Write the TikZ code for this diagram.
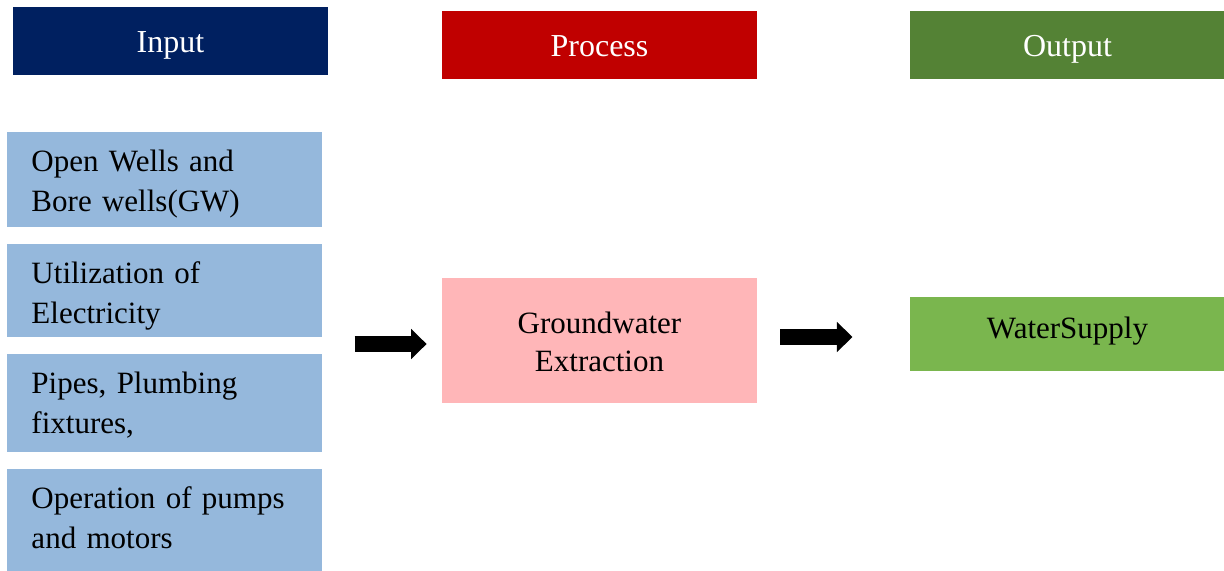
\documentclass[tikz,border=0pt]{standalone}
\usepackage{fontspec}
\setmainfont{Liberation Serif}
\usetikzlibrary{arrows.meta}

\definecolor{inputblue}{HTML}{002060}
\definecolor{processred}{HTML}{C00000}
\definecolor{outputgreen}{HTML}{548235}
\definecolor{itemblue}{HTML}{95B8DC}
\definecolor{extractpink}{HTML}{FFB6B8}
\definecolor{supplygreen}{HTML}{7AB64E}

\tikzset{
    header/.style={text=white, minimum height=34pt, text height=12pt, text depth=0pt,
        font=\fontsize{16}{20}\selectfont},
    item/.style={fill=itemblue, text width=133pt, align=left, text height=0pt},
    blockarrow/.style={line width=7.75pt, -{Triangle[length=7.75pt,width=14.75pt]}}
}

\begin{document}
\begin{tikzpicture}[x=1pt,y=-1pt]
            \useasboundingbox (0,0) rectangle (612,285.5);
            \begin{scope}[
                    every node/.style={inner sep=0pt, minimum width=157.5pt,
                        font=\fontsize{15.5}{20}\selectfont},
                ]

                \node[header, fill=inputblue] (input) at (85.25,20.5) {Input};
                \node[header, fill=processred] (process) at (299.75,22.5) {Process};
                \node[header, fill=outputgreen] (output) at (533.75,22.5) {Output};

                \node[item, minimum height=47.5pt, text depth=8pt] (wells) at (82.25,89.75) {Open Wells and\\Bore wells(GW)};
                \node[item, minimum height=46.5pt, text depth=7pt] (power) at (82.25,145.25) {Utilization of\\Electricity};
                \node[item, minimum height=49pt, text depth=9.5pt] (pipes) at (82.25,201.5) {Pipes, Plumbing\\fixtures,};
                \node[item, minimum height=51pt, text depth=11.5pt] (pumps) at (82.25,260) {Operation of pumps\\and motors};

                \node[fill=extractpink, minimum height=62.5pt, align=center,
                    text height=30.5pt, text depth=0pt] (extract) at (299.75,170.25) {Groundwater\\[-1.5pt]Extraction};
                \node[fill=supplygreen, minimum height=37pt,
                    text height=4pt, text depth=0pt] (supply) at (533.75,167) {WaterSupply};
            \end{scope}

            \coordinate (in1) at ([xshift=-43.5pt,yshift=-1.75pt]extract.west);
            \coordinate (in2) at ([xshift=-7.5pt,yshift=-1.75pt]extract.west);
            \coordinate (out1) at ([xshift=11.5pt,yshift=1.75pt]extract.east);
            \coordinate (out2) at ([xshift=47.5pt,yshift=1.75pt]extract.east);

            \draw[blockarrow] (in1) -- (in2);
            \draw[blockarrow] (out1) -- (out2);

        \end{tikzpicture}
\end{document}
